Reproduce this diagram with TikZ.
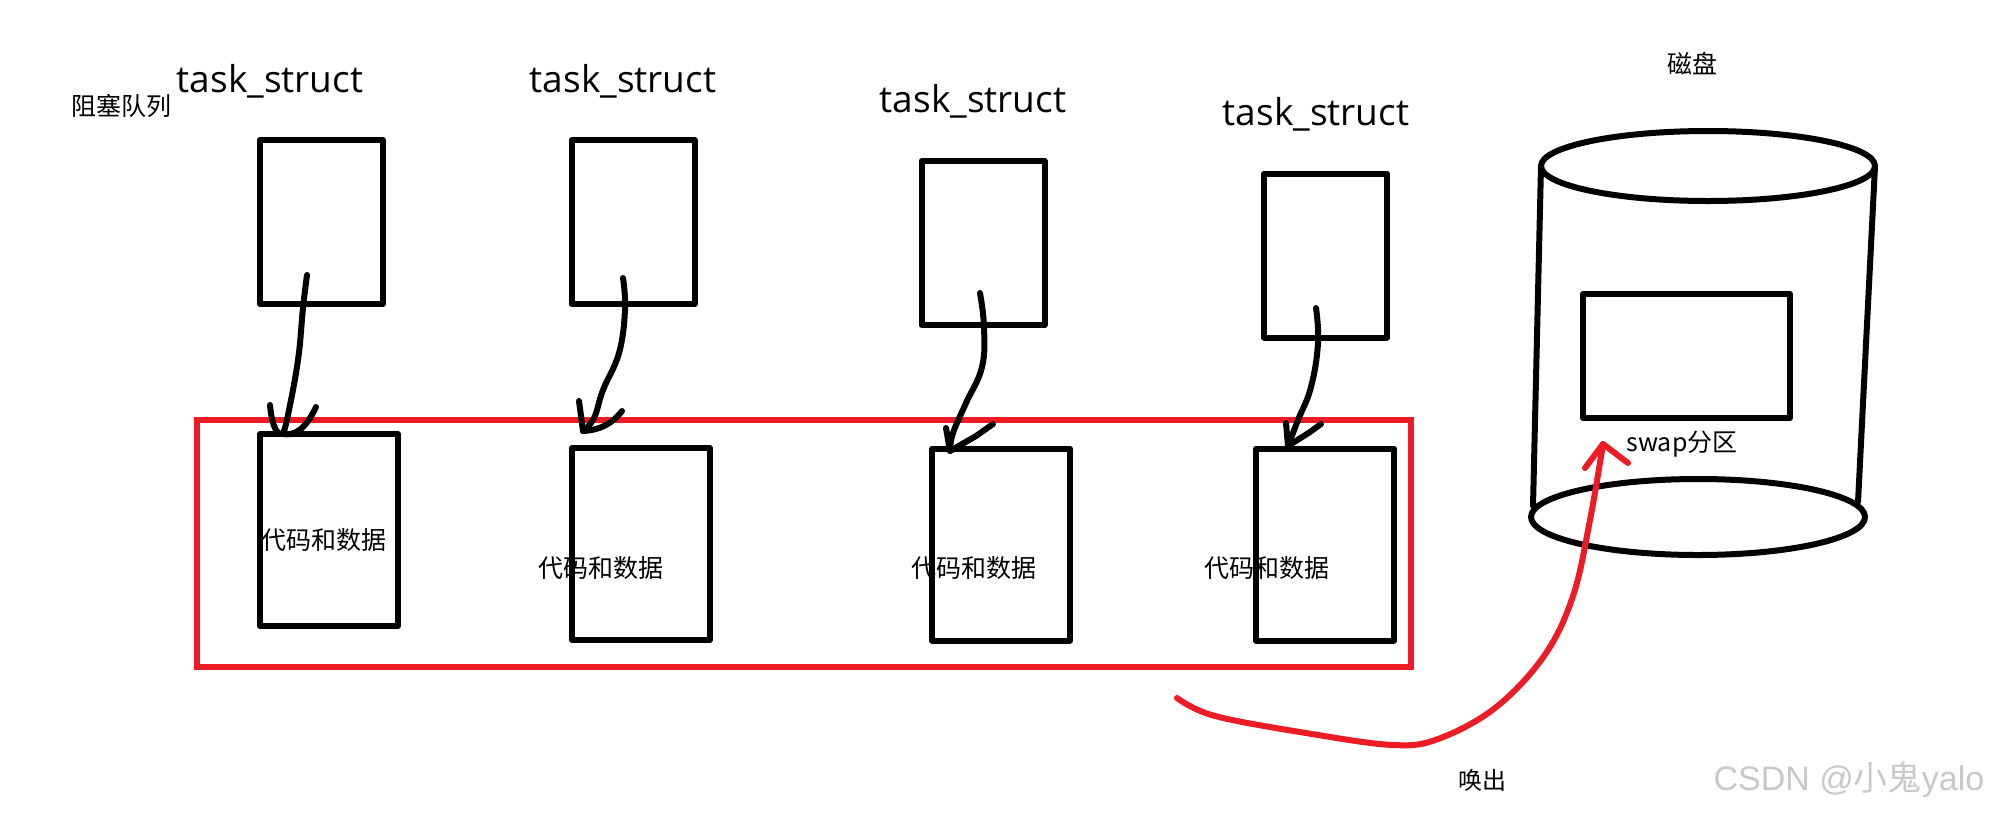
\documentclass[tikz,border=0pt]{standalone}
\usepackage{fontspec}
\setmainfont{Open Sans}
\newfontfamily\cjk{Noto Sans CJK SC}
\newfontfamily\wmfont{Liberation Sans}
\definecolor{pen}{RGB}{237,28,36}
\definecolor{wmgray}{RGB}{200,200,200}
\begin{document}
\begin{tikzpicture}[x=0.5pt,y=-0.5pt,
  box/.style={draw=black, line width=3pt, line join=round, inner sep=0pt, outer sep=0pt},
  tbox/.style={box, minimum width=61.5pt, minimum height=82pt},
  dbox/.style={box, minimum width=69pt, minimum height=96pt},
  ts/.style={font=\fontsize{18.5}{22}\selectfont, anchor=base, inner sep=0pt},
  zh/.style={font=\cjk\fontsize{12.5}{15}\selectfont, inner sep=0pt},
  ink/.style={line width=3pt, line cap=round, line join=round},
  redink/.style={ink, draw=pen},
]
\useasboundingbox (0,0) rectangle (1996,815);

% red memory frame
\node[draw=pen, line width=3pt, inner sep=0pt, outer sep=0pt,
      minimum width=607pt, minimum height=123.5pt] (mem) at (804,543.5) {};

% labels
\node[zh] (queue) at (121,106) {阻塞队列};
\node[ts] (ts1) at (270,92) {task\_struct};
\node[ts] (ts2) at (623,92) {task\_struct};
\node[ts] (ts3) at (973,112) {task\_struct};
\node[ts] (ts4) at (1316,125) {task\_struct};

% task_struct boxes
\node[tbox] (t1) at (321.5,222) {};
\node[tbox] (t2) at (633,222) {};
\node[tbox] (t3) at (983,243) {};
\node[tbox] (t4) at (1325.5,255.5) {};

% code and data boxes
\node[dbox] (d1) at (329,530) {};
\node[dbox] (d2) at (641,544) {};
\node[dbox] (d3) at (1001,544.5) {};
\node[dbox] (d4) at (1325,544.5) {};

\node[zh] (c1) at (324,540) {代码和数据};
\node[zh] (c2) at (601,568) {代码和数据};
\node[zh] (c3) at (974,568) {代码和数据};
\node[zh] (c4) at (1267,568) {代码和数据};

% hand-drawn arrows
\coordinate (a1s) at (307,275); \coordinate (a1e) at (283,434);
\draw[ink] plot[smooth, tension=0.7] coordinates {(a1s) (303,308) (298,360) (288,415) (a1e)};
\draw[ink] (270,405) .. controls (272,428) and (278,436) .. (a1e)
           .. controls (296,436) and (306,428) .. (316,407);

\coordinate (a2s) at (623,278); \coordinate (a2e) at (583,431);
\draw[ink] plot[smooth, tension=0.7] coordinates {(a2s) (625,310) (619,353) (603,390) (594,418) (a2e)};
\draw[ink] (579,401) -- (a2e) .. controls (600,430) and (612,424) .. (622,411);

\coordinate (a3s) at (980,293); \coordinate (a3e) at (950,451);
\draw[ink] plot[smooth, tension=0.7] coordinates {(a3s) (984,327) (982,367) (966,403) (953,433) (a3e)};
\draw[ink] (946,428) -- (a3e) -- (976,436) -- (993,424);

\coordinate (a4s) at (1316,308); \coordinate (a4e) at (1288,446);
\draw[ink] plot[smooth, tension=0.7] coordinates {(a4s) (1318,343) (1311,387) (1298,420) (a4e)};
\draw[ink] (1286,423) -- (a4e) -- (1310,432) -- (1321,424);

% disk
\node[zh] (disklabel) at (1692,64) {磁盘};
\draw[ink] (1708,166) ellipse [x radius=167, y radius=35];
\coordinate (dtl) at (1541,166); \coordinate (dtr) at (1875,166);
\coordinate (dbl) at (1533,506); \coordinate (dbr) at (1858,502);
\draw[ink] (dtl) -- (dbl);
\draw[ink] (dtr) -- (dbr);
\draw[ink] (1698,517) ellipse [x radius=167, y radius=38];
\node[box, minimum width=103.5pt, minimum height=62pt] (swap) at (1686.5,356) {};
\node[zh] (swaplabel) at (1682,444) {swap分区};

% swap-out arrow
\coordinate (rs) at (1177,698); \coordinate (re) at (1603,444);
\draw[redink] plot[smooth, tension=0.6] coordinates {(rs) (1215,716) (1312,734) (1393,745) (1438,739) (1495,708) (1544,656) (1573,596) (1590,520) (re)};
\draw[redink] (1585,468) -- (re) -- (1628,463);
\node[zh, font=\cjk\fontsize{12}{14}\selectfont] (out) at (1482,780) {唤出};

% watermark
\node[inner sep=0pt, text=wmgray, font=\wmfont\fontsize{17}{20}\selectfont] (wm) at (1849,780) {CSDN @{\cjk 小鬼}yalo};
\end{tikzpicture}
\end{document}
